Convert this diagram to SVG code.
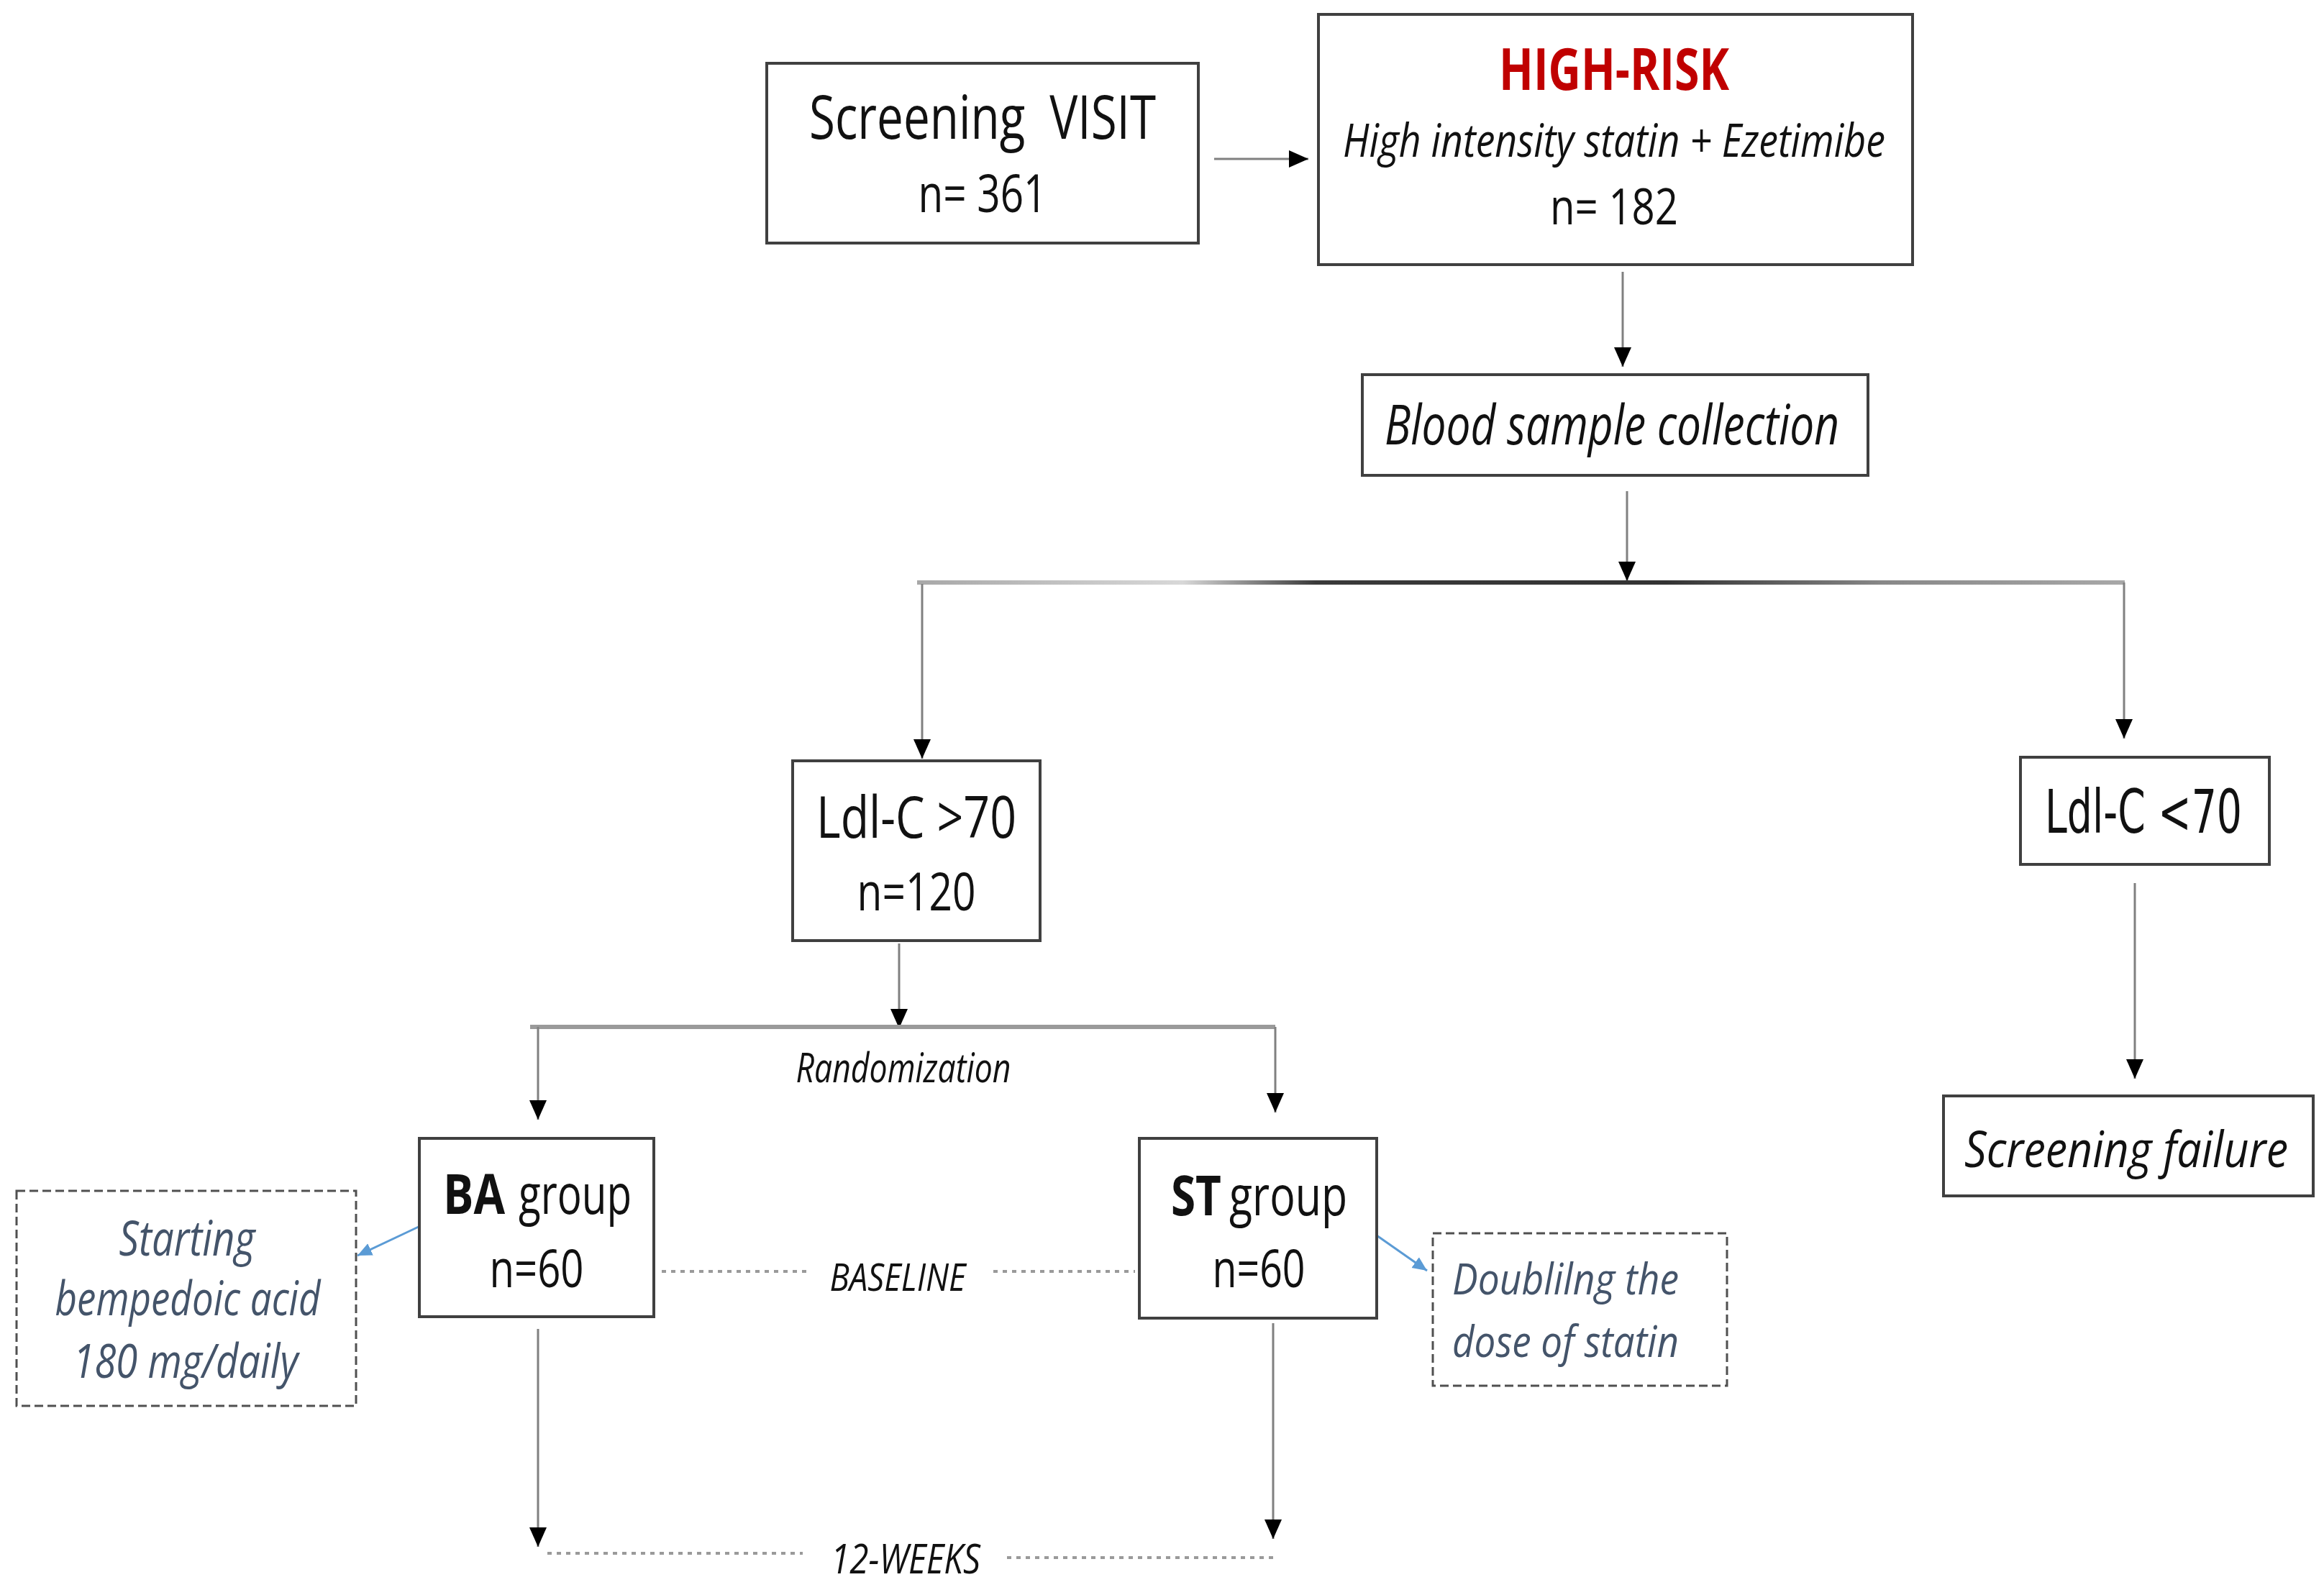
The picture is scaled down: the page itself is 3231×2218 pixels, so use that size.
<svg xmlns="http://www.w3.org/2000/svg" width="3231" height="2218" viewBox="0 0 3231 2218">
<defs>
<style>
.box{fill:#fff;stroke:#404040;stroke-width:4}
.dbox{fill:#fff;stroke:#505050;stroke-width:3;stroke-dasharray:12 6}
.t{font-family:"Open Sans","Liberation Sans",sans-serif;fill:#111}
.i{font-style:italic}
.b{font-weight:bold}
.note{font-family:"Open Sans","Liberation Sans",sans-serif;font-style:italic;fill:#44546A}
.ln{fill:none;stroke:#808080;stroke-width:3}
.bar{fill:none;stroke:#9a9a9a;stroke-width:6}
.dot{fill:none;stroke:#9a9a9a;stroke-width:4;stroke-dasharray:6 7}
.blue{fill:none;stroke:#5B9BD5;stroke-width:3}
</style>
<marker id="ah" markerUnits="userSpaceOnUse" markerWidth="28" markerHeight="30" refX="27" refY="15" orient="auto">
<path d="M0,3 L27,15 L0,27 Z" fill="#000"/>
</marker>
<marker id="ahb" markerUnits="userSpaceOnUse" markerWidth="22" markerHeight="22" refX="20" refY="11" orient="auto">
<path d="M0,2 L20,11 L0,20 Z" fill="#5B9BD5"/>
</marker>
<linearGradient id="g1" x1="1275" y1="0" x2="2954" y2="0" gradientUnits="userSpaceOnUse">
<stop offset="0" stop-color="#a8a8a8"/>
<stop offset="0.22" stop-color="#d8d8d8"/>
<stop offset="0.33" stop-color="#3a3a3a"/>
<stop offset="0.62" stop-color="#333"/>
<stop offset="0.8" stop-color="#888"/>
<stop offset="1" stop-color="#a8a8a8"/>
</linearGradient>
</defs>
<rect width="3231" height="2218" fill="#fff"/>

<g id="connectors">
<line class="ln" x1="1688" y1="221" x2="1819" y2="221" marker-end="url(#ah)"/>
<line class="ln" x1="2256" y1="378" x2="2256" y2="510" marker-end="url(#ah)"/>
<line class="ln" x1="2262" y1="683" x2="2262" y2="808" marker-end="url(#ah)"/>
<line x1="1275" y1="810" x2="2954" y2="810" stroke="url(#g1)" stroke-width="6"/>
<line class="ln" x1="1282" y1="812" x2="1282" y2="1055" marker-end="url(#ah)"/>
<line class="ln" x1="2953" y1="810" x2="2953" y2="1027" marker-end="url(#ah)"/>
<line class="ln" x1="1250" y1="1312" x2="1250" y2="1430" marker-end="url(#ah)"/>
<line class="bar" x1="737" y1="1428" x2="1773" y2="1428"/>
<line class="ln" x1="748" y1="1428" x2="748" y2="1557" marker-end="url(#ah)"/>
<line class="ln" x1="1773" y1="1428" x2="1773" y2="1547" marker-end="url(#ah)"/>
<line class="ln" x1="2968" y1="1228" x2="2968" y2="1500" marker-end="url(#ah)"/>
<line class="blue" x1="584" y1="1705" x2="497" y2="1746" marker-end="url(#ahb)"/>
<line class="blue" x1="1914" y1="1718" x2="1984" y2="1767" marker-end="url(#ahb)"/>
<line class="dot" x1="920" y1="1768" x2="1122" y2="1768"/>
<line class="dot" x1="1381" y1="1768" x2="1578" y2="1768"/>
<line class="ln" x1="748" y1="1848" x2="748" y2="2151" marker-end="url(#ah)"/>
<line class="ln" x1="1770" y1="1840" x2="1770" y2="2140" marker-end="url(#ah)"/>
<line class="dot" x1="761" y1="2160" x2="1116" y2="2160"/>
<line class="dot" x1="1400" y1="2166" x2="1773" y2="2166"/>
<text class="t i" transform="translate(1256 1505) scale(1 1.25)" font-size="45" text-anchor="middle" textLength="299" lengthAdjust="spacingAndGlyphs">Randomization</text>
<text class="t i" transform="translate(1248 1795) scale(1 1.25)" font-size="42" text-anchor="middle" textLength="189" lengthAdjust="spacingAndGlyphs">BASELINE</text>
<text class="t i" transform="translate(1259 2188) scale(1 1.25)" font-size="45" text-anchor="middle" textLength="208" lengthAdjust="spacingAndGlyphs">12-WEEKS</text>
</g>

<g id="screening">
<rect class="box" x="1066" y="88" width="600" height="250"/>
<text class="t" transform="translate(1366 193) scale(1 1.25)" font-size="67" text-anchor="middle" textLength="482" lengthAdjust="spacingAndGlyphs" xml:space="preserve">Screening  VISIT</text>
<text class="t" transform="translate(1366 295) scale(1 1.25)" font-size="58" text-anchor="middle" textLength="179" lengthAdjust="spacingAndGlyphs">n= 361</text>
</g>

<g id="highrisk">
<rect class="box" x="1833" y="20" width="826" height="348"/>
<text class="t b" transform="translate(2244 125) scale(1 1.25)" font-size="64" style="fill:#C00000" text-anchor="middle" textLength="320" lengthAdjust="spacingAndGlyphs">HIGH-RISK</text>
<text class="t i" transform="translate(2244 218) scale(1 1.25)" font-size="51" text-anchor="middle" textLength="754" lengthAdjust="spacingAndGlyphs">High intensity statin + Ezetimibe</text>
<text class="t" transform="translate(2244 312) scale(1 1.25)" font-size="56" text-anchor="middle" textLength="178" lengthAdjust="spacingAndGlyphs">n= 182</text>
</g>

<g id="blood">
<rect class="box" x="1894" y="521" width="703" height="140"/>
<text class="t i" transform="translate(2241 618) scale(1 1.25)" font-size="62" text-anchor="middle" textLength="632" lengthAdjust="spacingAndGlyphs">Blood sample collection</text>
</g>

<g id="ldl-high">
<rect class="box" x="1102" y="1058" width="344" height="250"/>
<text class="t" transform="translate(1274 1165) scale(1 1.25)" font-size="64" text-anchor="middle" textLength="278" lengthAdjust="spacingAndGlyphs">Ldl-C &gt;70</text>
<text class="t" transform="translate(1274 1266) scale(1 1.25)" font-size="58" text-anchor="middle" textLength="165" lengthAdjust="spacingAndGlyphs">n=120</text>
</g>

<g id="ldl-low">
<rect class="box" x="2809" y="1053" width="346" height="149"/>
<text transform="translate(2980 1158) scale(1 1.5)" font-family="'DejaVu Sans',sans-serif" font-size="56" fill="#111" text-anchor="middle" textLength="274" lengthAdjust="spacingAndGlyphs">Ldl-C &lt;70</text>
</g>

<g id="failure">
<rect class="box" x="2702" y="1524" width="514" height="139"/>
<text class="t i" transform="translate(2956 1623) scale(1 1.3)" font-size="54" text-anchor="middle" textLength="450" lengthAdjust="spacingAndGlyphs">Screening failure</text>
</g>

<g id="ba">
<rect class="box" x="583" y="1583" width="326" height="248"/>
<text class="t b" transform="translate(616 1688) scale(1 1.25)" font-size="62" textLength="86" lengthAdjust="spacingAndGlyphs">BA</text>
<text class="t" transform="translate(721 1688) scale(1 1.25)" font-size="62" textLength="157" lengthAdjust="spacingAndGlyphs">group</text>
<text class="t" transform="translate(746 1790) scale(1 1.25)" font-size="59" text-anchor="middle" textLength="131" lengthAdjust="spacingAndGlyphs">n=60</text>
</g>

<g id="st">
<rect class="box" x="1584" y="1583" width="330" height="250"/>
<text class="t b" transform="translate(1628 1690) scale(1 1.25)" font-size="62" textLength="70" lengthAdjust="spacingAndGlyphs">ST</text>
<text class="t" transform="translate(1709 1690) scale(1 1.25)" font-size="62" textLength="164" lengthAdjust="spacingAndGlyphs">group</text>
<text class="t" transform="translate(1750 1790) scale(1 1.25)" font-size="59" text-anchor="middle" textLength="129" lengthAdjust="spacingAndGlyphs">n=60</text>
</g>

<g id="starting">
<rect class="dbox" x="23" y="1656" width="472" height="299"/>
<text class="note" transform="translate(260 1746) scale(1 1.25)" font-size="54" text-anchor="middle" textLength="189" lengthAdjust="spacingAndGlyphs">Starting</text>
<text class="note" transform="translate(261 1829) scale(1 1.25)" font-size="52" text-anchor="middle" textLength="369" lengthAdjust="spacingAndGlyphs">bempedoic acid</text>
<text class="note" transform="translate(258 1916) scale(1 1.25)" font-size="52" text-anchor="middle" textLength="313" lengthAdjust="spacingAndGlyphs">180 mg/daily</text>
</g>

<g id="doubling">
<rect class="dbox" x="1992" y="1715" width="409" height="212"/>
<text class="note" transform="translate(2019 1800) scale(1 1.25)" font-size="48" textLength="315" lengthAdjust="spacingAndGlyphs">Doublilng the</text>
<text class="note" transform="translate(2019 1887) scale(1 1.25)" font-size="48" textLength="315" lengthAdjust="spacingAndGlyphs">dose of statin</text>
</g>
</svg>
